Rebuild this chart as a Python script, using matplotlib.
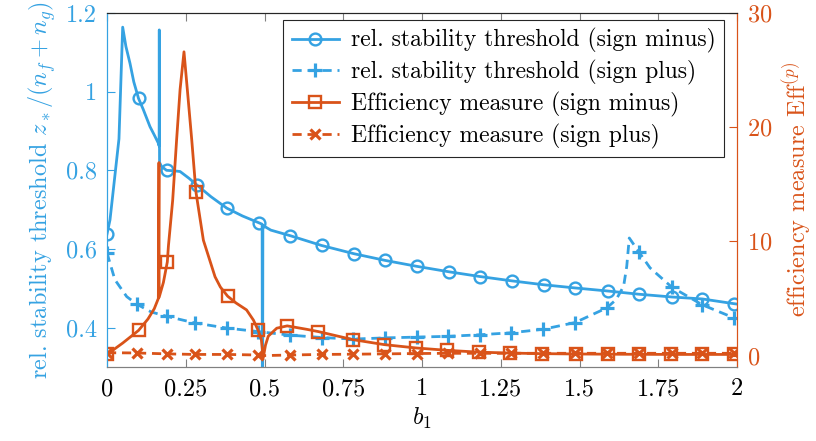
import matplotlib
matplotlib.use("Agg")
import matplotlib.pyplot as plt
from matplotlib.lines import Line2D

plt.rcParams['font.family'] = 'serif'
plt.rcParams['font.serif'] = ['cmr10', 'DejaVu Serif']
plt.rcParams['mathtext.fontset'] = 'cm'
plt.rcParams['axes.formatter.use_mathtext'] = True
plt.rcParams['font.size'] = 17.5

BLUE = '#35A2E2'
ORANGE = '#D95319'

# rel. stability threshold, sign minus (line)
x_sm = [0, 0.0095, 0.038, 0.0498, 0.06, 0.073, 0.085, 0.1, 0.115, 0.1365, 0.15, 0.163,
        0.1655, 0.166, 0.1668, 0.173, 0.189, 0.21, 0.232, 0.26, 0.285, 0.33, 0.38, 0.43,
        0.484, 0.4925, 0.4932, 0.494, 0.4948, 0.52, 0.581, 0.681, 0.784, 0.883, 0.983,
        1.086, 1.184, 1.285, 1.387, 1.486, 1.592, 1.689, 1.793, 1.89, 1.99, 2.0]
y_sm = [0.638, 0.674, 0.88, 1.164, 1.115, 1.072, 1.025, 0.983, 0.955, 0.911, 0.89, 0.869,
        0.862, 1.157, 0.82, 0.81, 0.80, 0.799, 0.797, 0.78, 0.763, 0.733, 0.704, 0.684,
        0.666, 0.663, 0.2, 0.2, 0.66, 0.648, 0.634, 0.609, 0.588, 0.571, 0.556,
        0.542, 0.530, 0.519, 0.509, 0.501, 0.493, 0.485, 0.478, 0.473, 0.461, 0.460]
# markers
mx_sm = [0, 0.1, 0.189, 0.285, 0.38, 0.484, 0.581, 0.681, 0.784, 0.883, 0.983, 1.086,
         1.184, 1.285, 1.387, 1.486, 1.592, 1.689, 1.793, 1.89, 1.99]
my_sm = [0.638, 0.983, 0.80, 0.763, 0.704, 0.666, 0.634, 0.609, 0.588, 0.571, 0.556, 0.542,
         0.530, 0.519, 0.509, 0.501, 0.493, 0.485, 0.478, 0.473, 0.461]

# rel. stability threshold, sign plus
x_sp = [0, 0.025, 0.0625, 0.094, 0.14, 0.189, 0.279, 0.38, 0.48, 0.581, 0.681, 0.781, 0.883,
        0.983, 1.084, 1.184, 1.283, 1.385, 1.486, 1.586, 1.616, 1.64, 1.65, 1.658, 1.689,
        1.724, 1.793, 1.89, 1.99, 2.0]
y_sp = [0.59, 0.522, 0.479, 0.46, 0.44, 0.429, 0.412, 0.399, 0.39, 0.381, 0.375, 0.371, 0.374,
        0.376, 0.378, 0.382, 0.387, 0.396, 0.413, 0.45, 0.471, 0.505, 0.556, 0.628, 0.592,
        0.552, 0.503, 0.458, 0.425, 0.423]
mx_sp = [0, 0.094, 0.189, 0.279, 0.38, 0.48, 0.581, 0.681, 0.781, 0.883, 0.983, 1.084,
         1.184, 1.283, 1.385, 1.486, 1.586, 1.689, 1.793, 1.89, 1.99]
my_sp = [0.59, 0.46, 0.429, 0.412, 0.399, 0.39, 0.381, 0.375, 0.371, 0.374, 0.376, 0.378,
         0.382, 0.387, 0.396, 0.413, 0.45, 0.592, 0.503, 0.458, 0.425]

# efficiency measure, sign minus
x_em = [0, 0.05, 0.1, 0.13, 0.15, 0.163, 0.165, 0.1655, 0.179, 0.1915, 0.195, 0.2085, 0.221,
        0.232, 0.2444, 0.255, 0.269, 0.2825, 0.306, 0.343, 0.36, 0.383, 0.41, 0.443, 0.465,
        0.48, 0.49, 0.496, 0.503, 0.512, 0.539, 0.572, 0.634, 0.671, 0.78, 0.88, 0.98, 1.08,
        1.18, 1.28, 1.38, 1.49, 1.6, 1.8, 2.0]
y_em = [0.1, 1.1, 2.2, 3.2, 4.1, 5.0, 16.9, 5.1, 6.4, 8.2, 9.6, 13.6, 18.9,
        23.3, 26.6, 23.3, 18.9, 14.3, 10.1, 6.9, 6.0, 5.2, 4.6, 4.0, 3.1,
        2.2, 1.4, -0.2, 0.9, 1.7, 2.4, 2.6, 2.3, 2.1, 1.4, 0.96, 0.67, 0.46,
        0.3, 0.22, 0.17, 0.14, 0.12, 0.1, 0.1]
mx_em = [0, 0.1, 0.1915, 0.2825, 0.383, 0.48, 0.572, 0.671, 0.78, 0.88, 0.98, 1.08, 1.18,
         1.28, 1.38, 1.49, 1.59, 1.69, 1.79, 1.89, 1.99]
my_em = [0.1, 2.2, 8.2, 14.3, 5.2, 2.2, 2.6, 2.1, 1.4, 0.96, 0.67, 0.46, 0.3,
         0.22, 0.17, 0.14, 0.12, 0.11, 0.1, 0.1, 0.1]

# efficiency measure, sign plus
x_ep = [0, 0.094, 0.189, 0.279, 0.38, 0.48, 0.5, 0.581, 0.681, 0.781, 0.883, 0.983, 1.084,
        1.184, 1.283, 1.385, 1.486, 1.586, 1.689, 1.793, 1.89, 1.99, 2.0]
y_ep = [0.25, 0.23, 0.15, 0.1, 0.1, 0.05, 0.0, 0.05, 0.1, 0.12, 0.15, 0.18, 0.2,
        0.2, 0.2, 0.2, 0.2, 0.2, 0.2, 0.2, 0.2, 0.2, 0.2]
mx_ep = mx_sp
my_ep = [0.25, 0.23, 0.15, 0.1, 0.1, 0.05, 0.05, 0.1, 0.12, 0.15, 0.18, 0.2,
         0.2, 0.2, 0.2, 0.2, 0.2, 0.2, 0.2, 0.2, 0.2]

labels = ['rel. stability threshold (sign minus)',
          'rel. stability threshold (sign plus)',
          'Efficiency measure (sign minus)',
          'Efficiency measure (sign plus)']
xticks = [0, 0.25, 0.5, 0.75, 1, 1.25, 1.5, 1.75, 2]
xticklabels = ['0', '0.25', '0.5', '0.75', '1', '1.25', '1.5', '1.75', '2']
yticks_l = [0.4, 0.6, 0.8, 1.0, 1.2]
yticklabels_l = ['0.4', '0.6', '0.8', '1', '1.2']
yticks_r = [0, 10, 20, 30]

lw = 2.0
dash = (3.3, 2.1)
ms = 8.5

fig = plt.figure(figsize=(8.16, 4.41), dpi=100)
ax1 = fig.add_axes([107 / 816, 1 - 367 / 441, 630 / 816, 354 / 441])
ax2 = ax1.twinx()

ax1.plot(x_sm, y_sm, color=BLUE, lw=lw)
ax1.plot(mx_sm, my_sm, ls='none', marker='o', ms=ms, mfc='none', mec=BLUE, mew=1.7)
ax1.plot(x_sp, y_sp, color=BLUE, lw=lw, dashes=dash)
ax1.plot(mx_sp, my_sp, ls='none', marker='+', ms=ms + 1, mec=BLUE, mew=2.3)

ax2.plot(x_em, y_em, color=ORANGE, lw=lw)
ax2.plot(mx_em, my_em, ls='none', marker='s', ms=ms - 0.5, mfc='none', mec=ORANGE, mew=1.7)
ax2.plot(x_ep, y_ep, color=ORANGE, lw=lw, dashes=dash)
ax2.plot(mx_ep, my_ep, ls='none', marker='x', ms=ms - 2, mec=ORANGE, mew=2.3)

ax1.set_xlim(0, 2)
ax1.set_ylim(0.3, 1.2)
ax2.set_ylim(-1, 30)

ax1.set_xticks(xticks)
ax1.set_xticklabels(xticklabels)
ax1.set_yticks(yticks_l)
ax1.set_yticklabels(yticklabels_l)
ax2.set_yticks(yticks_r)

ax1.tick_params(axis='x', direction='in', length=6, color='#808080', top=True, pad=8)
ax1.tick_params(axis='y', direction='in', length=6, colors=BLUE, pad=7)
ax2.tick_params(axis='y', direction='in', length=6, colors=ORANGE, pad=7)

for ax in (ax1, ax2):
    ax.spines['left'].set_color(BLUE)
    ax.spines['right'].set_color(ORANGE)
    ax.spines['bottom'].set_color('#808080')
    ax.spines['top'].set_color('#262626')

ax1.set_xlabel(r'$b_1$', labelpad=4)
ax1.set_ylabel(r'rel. stability threshold $z_*/(n_f+n_g)$', color=BLUE, labelpad=6)
ax2.set_ylabel(r'efficiency measure $\mathrm{Eff}^{(p)}$', color=ORANGE, labelpad=6)

handles = [
    Line2D([], [], color=BLUE, lw=lw, marker='o', ms=ms, mfc='none', mew=1.7),
    Line2D([], [], color=BLUE, lw=lw, dashes=dash, marker='+', ms=ms + 1, mew=2.3),
    Line2D([], [], color=ORANGE, lw=lw, marker='s', ms=ms - 0.5, mfc='none', mew=1.7),
    Line2D([], [], color=ORANGE, lw=lw, dashes=dash, marker='x', ms=ms - 2, mew=2.3),
]
leg = ax2.legend(handles, labels, loc='upper right', bbox_to_anchor=(0.979, 0.980),
                 borderaxespad=0, fancybox=False, framealpha=1, edgecolor='#262626',
                 handlelength=2.0, labelspacing=0.28, borderpad=0.35, handletextpad=0.5,
                 fontsize=17)
leg.get_frame().set_linewidth(0.8)

fig.savefig('out.png', dpi=100)
